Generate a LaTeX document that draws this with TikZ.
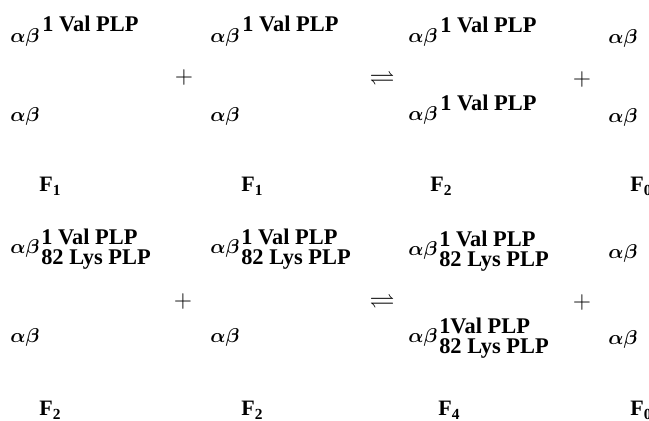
\documentclass[tikz,border=0pt]{standalone}
\usepackage{amsmath}
\usepackage{amssymb}
\usepackage{fontspec}
\setmainfont{Liberation Serif}
\usetikzlibrary{positioning}

\begin{document}
\begin{tikzpicture}[
    x=0.5pt, y=-0.5pt,
    every node/.style={font=\fontsize{11}{13}\selectfont},
    dimer/.style={
        anchor=base west,
        inner sep=0pt,
        font=\fontsize{10.2}{12}\selectfont
    },
    siteLabel/.style={
        anchor=base west,
        inner sep=0pt,
        font=\fontsize{11.2}{13}\selectfont\bfseries
    },
    opSign/.style={
        inner sep=0pt,
        font=\fontsize{12.5}{14}\selectfont
    },
    formLabel/.style={
        anchor=base west,
        inner sep=0pt
    }
]
\useasboundingbox (0,0) rectangle (649,421);
\clip (0,0) rectangle (649,421);

% Row 1
\node[dimer] (ua) at (10,43) {$\boldsymbol{\alpha\beta}$};
\node[siteLabel] (uaSup) at ([shift={(2,-11)}]ua.base east) {1 Val PLP};
\node[dimer] (ub) at (10,122) {$\boldsymbol{\alpha\beta}$};

\node[opSign] (uPlusA) at (184,78) {$+$};

\node[dimer] (uc) at (210,43) {$\boldsymbol{\alpha\beta}$};
\node[siteLabel] (ucSup) at ([shift={(2,-11)}]uc.base east) {1 Val PLP};
\node[dimer] (ud) at (210,122) {$\boldsymbol{\alpha\beta}$};

\node[opSign] (uEq) at (382,78) {$\rightleftharpoons$};

\node[dimer] (ue) at (408,43) {$\boldsymbol{\alpha\beta}$};
\node[siteLabel] (ueSup) at ([shift={(2,-10)}]ue.base east) {1 Val PLP};
\node[dimer] (uf) at (408,121) {$\boldsymbol{\alpha\beta}$};
\node[siteLabel] (ufSup) at ([shift={(2,-10)}]uf.base east) {1 Val PLP};

\node[opSign] (uPlusB) at (582,80) {$+$};

\node[dimer] (ug) at (608,44) {$\boldsymbol{\alpha\beta}$};
\node[dimer] (uh) at (608,123) {$\boldsymbol{\alpha\beta}$};

\node[formLabel] (uF1) at (39,192) {$\mathbf{F}_{\mathbf{1}}$};
\node[formLabel] (uF2) at (241,192) {$\mathbf{F}_{\mathbf{1}}$};
\node[formLabel] (uF3) at (430,192) {$\mathbf{F}_{\mathbf{2}}$};
\node[formLabel] (uF4) at (630,192) {$\mathbf{F}_{\mathbf{0}}$};

% Row 2
\node[dimer] (la) at (10,254) {$\boldsymbol{\alpha\beta}$};
\node[siteLabel] (laSup) at ([shift={(1,-9)}]la.base east) {1 Val PLP};
\node[siteLabel] (laSub) at ([shift={(1,11)}]la.base east) {82 Lys PLP};
\node[dimer] (lb) at (10,343) {$\boldsymbol{\alpha\beta}$};

\node[opSign] (lPlusA) at (183,302) {$+$};

\node[dimer] (lc) at (210,254) {$\boldsymbol{\alpha\beta}$};
\node[siteLabel] (lcSup) at ([shift={(1,-9)}]lc.base east) {1 Val PLP};
\node[siteLabel] (lcSub) at ([shift={(1,11)}]lc.base east) {82 Lys PLP};
\node[dimer] (ld) at (210,343) {$\boldsymbol{\alpha\beta}$};

\node[opSign] (lEq) at (382,301) {$\rightleftharpoons$};

\node[dimer] (le) at (408,256) {$\boldsymbol{\alpha\beta}$};
\node[siteLabel] (leSup) at ([shift={(1,-9)}]le.base east) {1 Val PLP};
\node[siteLabel] (leSub) at ([shift={(1,11)}]le.base east) {82 Lys PLP};
\node[dimer] (lf) at (408,343) {$\boldsymbol{\alpha\beta}$};
\node[siteLabel] (lfSup) at ([shift={(1,-9)}]lf.base east) {1Val PLP};
\node[siteLabel] (lfSub) at ([shift={(1,11)}]lf.base east) {82 Lys PLP};

\node[opSign] (lPlusB) at (582,303) {$+$};

\node[dimer] (lg) at (608,259) {$\boldsymbol{\alpha\beta}$};
\node[dimer] (lh) at (608,345) {$\boldsymbol{\alpha\beta}$};

\node[formLabel] (lF1) at (39,416) {$\mathbf{F}_{\mathbf{2}}$};
\node[formLabel] (lF2) at (241,416) {$\mathbf{F}_{\mathbf{2}}$};
\node[formLabel] (lF3) at (438,416) {$\mathbf{F}_{\mathbf{4}}$};
\node[formLabel] (lF4) at (630,416) {$\mathbf{F}_{\mathbf{0}}$};

\end{tikzpicture}
\end{document}
